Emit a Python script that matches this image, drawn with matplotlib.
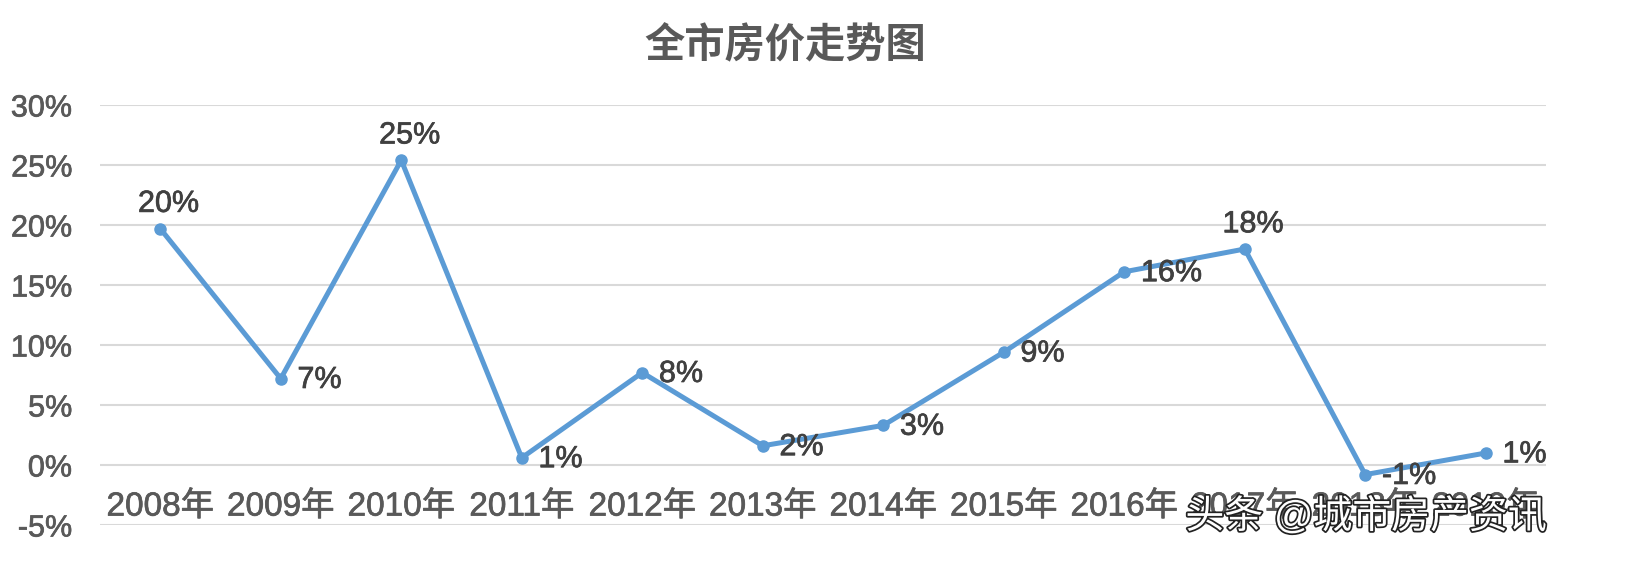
import matplotlib
matplotlib.use('Agg')
import matplotlib.pyplot as plt
import matplotlib.patheffects as pe
from matplotlib.ticker import FuncFormatter, MultipleLocator

plt.rcParams['font.family'] = ['Liberation Sans', 'Noto Sans CJK SC', 'DejaVu Sans']

years = ["2008年", "2009年", "2010年", "2011年", "2012年", "2013年",
         "2014年", "2015年", "2016年", "2017年", "2018年", "2019年"]
# yearly change, percent
change = [19.7, 7.2, 25.4, 0.6, 7.7, 1.6, 3.3, 9.4, 16.1, 18.0, -0.8, 1.0]
# where each data label sits relative to its point
label_pos = ["above", "right", "above", "right", "right", "right",
             "right", "right", "right", "above", "right", "right"]

# the reference text is rendered a little heavier than Liberation regular
def heavy(color):
    return [pe.withStroke(linewidth=0.5, foreground=color)]

fig = plt.figure(figsize=(16.35, 5.78), dpi=100)
ax = fig.add_axes([100 / 1635, 53 / 578, 1446 / 1635, 420 / 578])

x = list(range(len(years)))
ax.plot(x, change, color="#5B9BD5", linewidth=3.6, marker="o", markersize=8,
        solid_joinstyle="round", zorder=3)

for xi, v, pos in zip(x, change, label_pos):
    txt = f"{v:.0f}%"
    if pos == "above":
        ax.annotate(txt, (xi, v), xytext=(6, 7), textcoords="offset points",
                    ha="center", va="bottom", fontsize=22, color="#404040",
                    path_effects=heavy("#404040"))
    else:
        ax.annotate(txt, (xi, v), xytext=(12, -1), textcoords="offset points",
                    ha="left", va="center", fontsize=22, color="#404040",
                    path_effects=heavy("#404040"))

ax.set_xlim(-0.5, len(years) - 0.5)
ax.set_ylim(-5, 30)
ax.yaxis.set_major_locator(MultipleLocator(5))
ax.yaxis.set_major_formatter(FuncFormatter(lambda v, p: f"{v:.0f}%"))
ax.grid(axis="y", color="#D9D9D9", linewidth=1.5)
ax.set_axisbelow(True)
for s in ax.spines.values():
    s.set_visible(False)
ax.tick_params(axis="both", length=0, labelsize=22, labelcolor="#595959")
ax.tick_params(axis="y", pad=20)
for t in ax.get_yticklabels():
    t.set_path_effects(heavy("#595959"))
ax.set_xticks(x)
ax.set_xticklabels([])

# category labels sit just under the zero line
for xi, lab in zip(x, years):
    ax.text(xi, -3.5, lab, ha="center", va="center", fontsize=24, color="#595959",
            path_effects=heavy("#595959"))

fig.text(0.48, 0.922, "全市房价走势图", ha="center", va="center", fontsize=29,
         color="#595959", fontweight="bold")

fig.text(0.725, 0.106, "头条 @城市房产资讯", ha="left", va="center", fontsize=28,
         color="white",
         path_effects=[pe.withStroke(linewidth=2.5, foreground="#222222")])

fig.savefig("out.png", dpi=100)
